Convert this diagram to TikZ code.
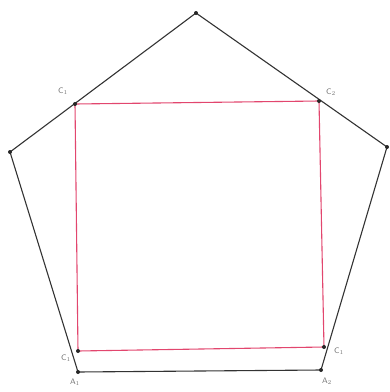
\documentclass[tikz,border=0pt]{standalone}
\begin{document}
\begin{tikzpicture}[x=1pt,y=-1pt,
  edge/.style={draw=black!80,line width=1.1pt},
  sq/.style={draw={rgb,255:red,226;green,70;blue,110},line width=1.1pt},
  dot/.style={circle,fill=black!85,inner sep=0pt,minimum size=4pt},
  lab/.style={font=\sffamily\footnotesize,text=black!55,inner sep=0pt}]
\useasboundingbox (0,0) rectangle (390,392);
\coordinate (T) at (196,13);
\coordinate (L) at (10,152);
\coordinate (R) at (387,147);
\coordinate (A1) at (78,372);
\coordinate (A2) at (321,370);
\coordinate (S1) at (75,104);
\coordinate (S2) at (319,101);
\coordinate (S3) at (324,347);
\coordinate (S4) at (78,351);
\draw[sq] (S1) -- (S2) -- (S3) -- (S4) -- cycle;
\draw[edge] (T) -- (R) -- (A2) -- (A1) -- (L) -- cycle;
\foreach \p in {T,L,R,A1,A2,S1,S2,S3,S4} \node[dot] at (\p) {};
\node[lab] (c1) at (63,91) {C$_1$};
\node[lab] (c2) at (331,92) {C$_2$};
\node[lab] (c3) at (66,358) {C$_1$};
\node[lab] (c4) at (339,351) {C$_1$};
\node[lab] (a1) at (75,382) {A$_1$};
\node[lab] (a2) at (327,381) {A$_2$};
\end{tikzpicture}
\end{document}
